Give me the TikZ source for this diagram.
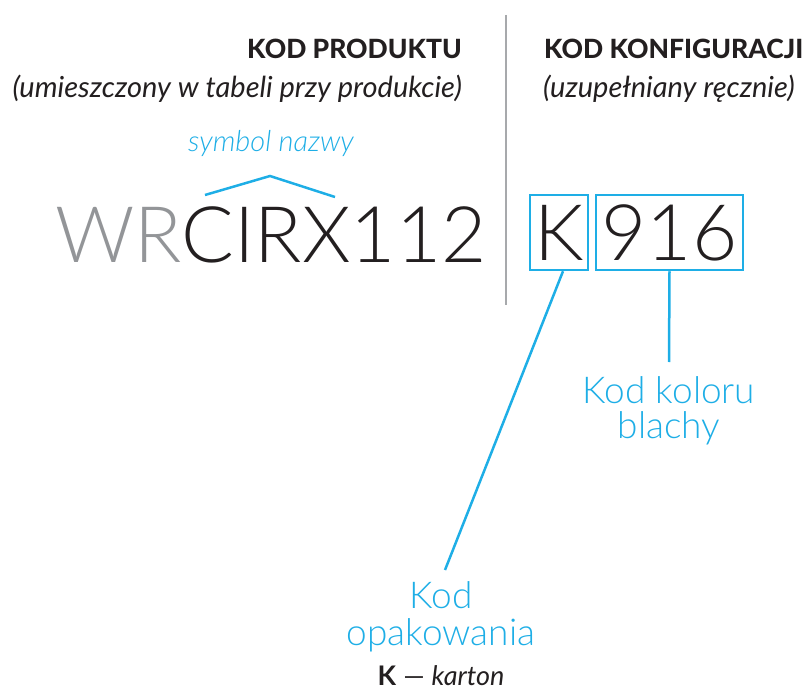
\documentclass[tikz,border=0pt]{standalone}
\usepackage{fontspec}
\setmainfont{Lato}
\newfontfamily\lightfont{Lato Light}[ItalicFont={Lato Light Italic}]
\newfontfamily\heavyfont{Lato Heavy}
\definecolor{cblue}{HTML}{1EAEE6}
\definecolor{cgray}{HTML}{939598}
\definecolor{cblack}{HTML}{231F20}
\definecolor{cline}{HTML}{A7A9AC}
\begin{document}
\begin{tikzpicture}[x=1pt,y=1pt,
  head/.style={inner sep=0pt,text=cblack,font=\heavyfont\fontsize{26.5}{30}\selectfont},
  sub/.style={inner sep=0pt,text=cblack,font=\fontsize{29}{32}\selectfont\itshape},
  codetext/.style={inner sep=0pt,text=cblack,font=\lightfont\fontsize{78}{80}\selectfont},
  bluelbl/.style={inner sep=0pt,text=cblue,font=\lightfont\fontsize{37}{37}\selectfont},
  cbox/.style={draw=cblue,line width=2.5pt,inner sep=0pt,text=cblack,font=\lightfont\fontsize{78}{80}\selectfont,minimum height=75pt},
  conn/.style={draw=cblue,line width=2.5pt}]
\useasboundingbox (0,0) rectangle (806,-690);
\draw[cline,line width=2.5pt] (506,-15) coordinate (vt) -- (506,-305) coordinate (vb);
\node[head,anchor=base east] (h1) at (462,-59) {KOD PRODUKTU};
\node[sub,anchor=base east] (s1) at (462,-98) {(umieszczony w tabeli przy produkcie)};
\node[head,anchor=base west] (h2) at (544,-59) {KOD KONFIGURACJI};
\node[sub,anchor=base west] (s2) at (543,-98) {(uzupełniany ręcznie)};
\node[inner sep=0pt,text=cblue,font=\lightfont\itshape\fontsize{29}{32}\selectfont,anchor=base] (sym) at (271,-152) {symbol nazwy};
\coordinate (c1) at (205,-195);
\coordinate (c2) at (270,-176);
\coordinate (c3) at (335,-197);
\draw[conn] (c1) -- (c2) -- (c3);
\node[codetext,anchor=base west] (code) at (55,-262) {{\color{cgray}WR}CIRX112};
\node[cbox,minimum width=58pt] (kbox) at (559,-232.5) {K};
\node[cbox,minimum width=147pt] (nbox) at (669.5,-232.5) {916};
\coordinate (k1) at (445,-570);
\coordinate (n1) at (669,-362);
\draw[conn] ([xshift=4pt]kbox.south) -- (k1);
\draw[conn] (nbox.south) -- (n1);
\node[bluelbl,anchor=base,align=center,font=\lightfont\fontsize{37}{35}\selectfont] (kolor) at (669,-438) {Kod koloru\\blachy};
\node[bluelbl,anchor=base,align=center] (kod) at (441,-645) {Kod\\opakowania};
\node[inner sep=0pt,text=cblack,font=\fontsize{27}{29}\selectfont,anchor=base] (kart) at (441,-685) {\textbf{K} — \textit{karton}};
\end{tikzpicture}
\end{document}
